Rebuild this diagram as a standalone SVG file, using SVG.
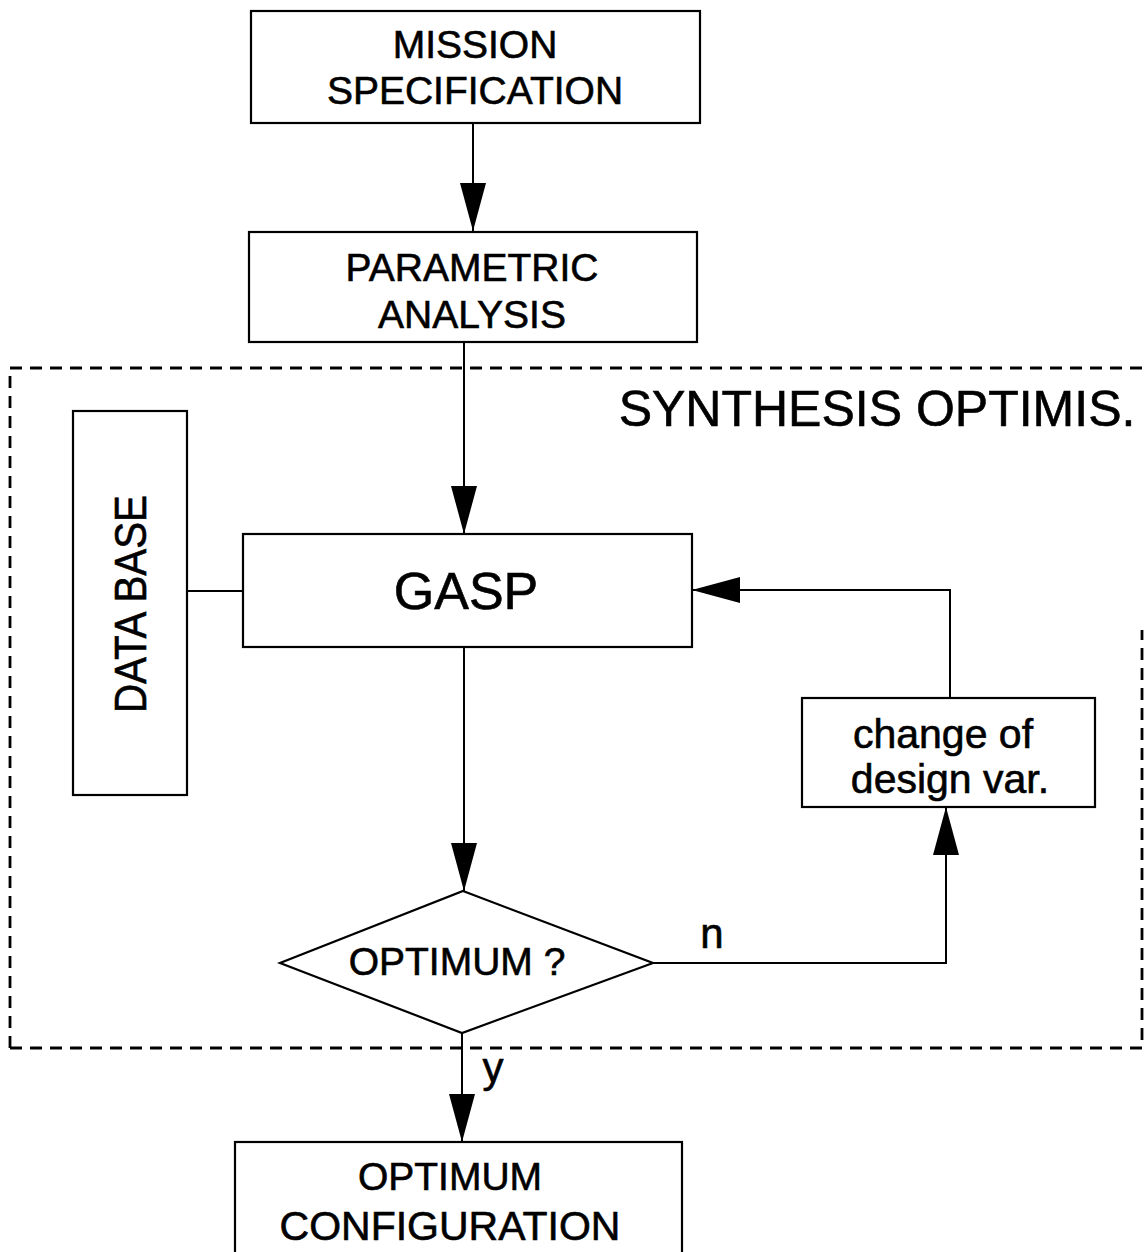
<svg xmlns="http://www.w3.org/2000/svg" width="1146" height="1252" viewBox="0 0 1146 1252">
  <style>
    .box { fill: #fff; stroke: #000; stroke-width: 2.2; }
    .wire { fill: none; stroke: #000; stroke-width: 2; }
    .frame { fill: none; stroke: #000; stroke-width: 2.8; stroke-dasharray: 12 8; }
    .lbl { font-family: "Liberation Sans", Arial, sans-serif; fill: #000; stroke: #000; stroke-width: 0.6; text-anchor: middle; }
  </style>
  <defs>
    <marker id="head" markerUnits="userSpaceOnUse" markerWidth="48" markerHeight="26" refX="48" refY="13" orient="auto">
      <path d="M0,0 L48,13 L0,26 z" fill="#000"/>
    </marker>
  </defs>

  <rect width="1146" height="1252" fill="#fff"/>

  <!-- synthesis / optimisation boundary -->
  <g id="synthesis-frame">
    <path class="frame" d="M10,1048 L10,368 L1146,368"/>
    <path class="frame" d="M10,1048 L1142,1048 L1142,630"/>
    <text class="lbl" x="877" y="426" font-size="50">SYNTHESIS OPTIMIS.</text>
  </g>

  <!-- connectors -->
  <g id="connectors">
    <path class="wire" d="M473,123 L473,231" marker-end="url(#head)"/>
    <path class="wire" d="M464,342 L464,534" marker-end="url(#head)"/>
    <path class="wire" d="M187,591 L243,591"/>
    <path class="wire" d="M464,647 L464,891" marker-end="url(#head)"/>
    <path class="wire" d="M653,963 L946,963 L946,807" marker-end="url(#head)"/>
    <path class="wire" d="M950,698 L950,590 L692,590" marker-end="url(#head)"/>
    <path class="wire" d="M462,1033 L462,1142" marker-end="url(#head)"/>
    <text class="lbl" x="712" y="948" font-size="42">n</text>
    <text class="lbl" x="493" y="1082" font-size="42">y</text>
  </g>

  <g id="mission">
    <rect class="box" x="251" y="11" width="449" height="112"/>
    <text class="lbl" x="475" y="58" font-size="39">MISSION</text>
    <text class="lbl" x="475" y="104" font-size="39">SPECIFICATION</text>
  </g>

  <g id="parametric">
    <rect class="box" x="249" y="232" width="448" height="110"/>
    <text class="lbl" x="472" y="281" font-size="39">PARAMETRIC</text>
    <text class="lbl" x="472" y="328" font-size="39">ANALYSIS</text>
  </g>

  <g id="database">
    <rect class="box" x="73" y="411" width="114" height="384"/>
    <text class="lbl" transform="translate(146,604) rotate(-90)" font-size="45" textLength="218" lengthAdjust="spacingAndGlyphs">DATA BASE</text>
  </g>

  <g id="gasp">
    <rect class="box" x="243" y="534" width="449" height="113"/>
    <text class="lbl" x="466" y="609" font-size="52">GASP</text>
  </g>

  <g id="change">
    <rect class="box" x="802" y="698" width="293" height="109"/>
    <text class="lbl" x="943" y="748" font-size="41">change of</text>
    <text class="lbl" x="950" y="793" font-size="41">design var.</text>
  </g>

  <g id="decision">
    <polygon class="box" points="463,891 653,963 462,1033 280,963"/>
    <text class="lbl" x="457" y="975" font-size="39">OPTIMUM ?</text>
  </g>

  <g id="result">
    <rect class="box" x="235" y="1142" width="447" height="130"/>
    <text class="lbl" x="450" y="1190" font-size="39">OPTIMUM</text>
    <text class="lbl" x="450" y="1240" font-size="41">CONFIGURATION</text>
  </g>
</svg>
